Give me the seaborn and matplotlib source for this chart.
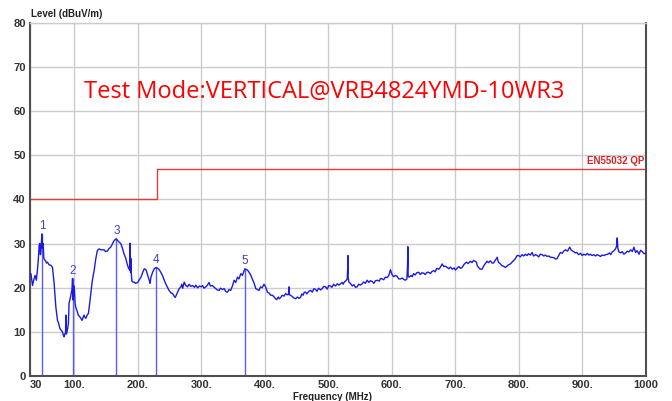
import matplotlib
matplotlib.use("Agg")
import matplotlib.pyplot as plt
import seaborn as sns
import pandas as pd

# measured trace (MHz, dBuV/m)
freq_mhz = [
    31.4, 33, 34, 36, 38, 40, 42, 43, 44.5, 45.5,
    46.3, 47, 48, 48.7, 49.5, 50.7, 51.8, 54, 56, 57.5,
    60, 62.8, 64, 65.4, 66.5, 68, 70.7, 72, 73.3, 75,
    77, 79, 81, 82.5, 83.8, 85, 86, 86.4, 86.8, 87.4,
    89, 90.5, 91.5, 92.7, 94, 94.8, 96, 97, 97.5, 98,
    98.8, 100, 101, 102, 104, 106, 108, 110, 112, 115,
    116.5, 118, 120, 122, 124, 125.7, 128, 131, 133.5, 136,
    138.8, 142, 146.6, 149, 151.8, 154, 157, 160, 162, 164,
    166, 167.5, 170, 173, 175.5, 178, 180.5, 183, 185, 187,
    187.5, 188, 188.5, 189, 189.6, 190.5, 191.7, 194, 196, 199.6,
    202, 204.8, 207.5, 210, 212.6, 215, 217.8, 219, 220.5, 223,
    225.7, 228.5, 230, 233, 236, 238.5, 241.4, 245, 249, 252,
    254.6, 256.5, 258.7, 260.5, 262.4, 265, 267.6, 269, 270.5, 272.8,
    275, 278, 280.5, 283, 286, 289, 291, 293.9, 297, 299.5,
    301.7, 304, 307, 309.5, 312, 314, 317.5, 320, 322.6, 325,
    327.8, 330, 333, 335.7, 338, 341, 343.5, 346, 349, 351.4,
    354, 356.7, 359, 362, 364.5, 367, 368.5, 372.5, 375, 377.5,
    380, 383, 385.5, 388, 390.7, 393, 395.5, 398.5, 401, 403.9,
    406.5, 409, 411.7, 414, 416, 418.5, 421, 422.5, 424.8, 427,
    430, 432.7, 435, 437.5, 437.8, 438.2, 440.5, 443, 445.5, 448.4,
    451, 453.5, 456, 458, 460, 462, 464, 466, 469, 472,
    474.5, 477, 479.7, 482, 484.5, 487.6, 490, 492.5, 495.5, 498,
    500.5, 503, 505.5, 508, 511, 514, 516.5, 519, 521.5, 523,
    525, 527.5, 529.5, 530.3, 530.6, 531, 532, 534.5, 537.5, 540,
    542.5, 545, 547.5, 550, 553, 555.5, 558, 561, 563.5, 566,
    569, 571.5, 574, 577, 580, 582, 584.6, 587, 589.5, 592.5,
    595, 597.6, 600, 602.8, 605.5, 608, 610.7, 613.4, 616, 618.5,
    621, 623.5, 624.5, 625, 625.5, 627, 630, 632, 634, 636.5,
    639, 642, 644.5, 647, 650, 652.5, 655, 658, 660.5, 663,
    665.7, 668, 670.5, 673.6, 676, 679, 681.5, 684, 687, 689.5,
    692, 695, 698, 700, 702.5, 705, 708, 710.5, 713.5, 717,
    720, 723.4, 726, 728.6, 731, 733, 734.5, 736.5, 739, 741.8,
    744, 746.5, 749.7, 752, 755, 757.5, 760, 762.5, 765.6, 767.5,
    770.8, 773, 775.5, 778.6, 781, 783.5, 786.5, 789, 791.8, 794.3,
    797, 799.5, 802, 805, 807.5, 810, 812.8, 815, 818, 820.7,
    823, 826, 828.6, 831, 833.5, 836.5, 839, 841.5, 844.3, 847,
    849.5, 852, 855, 857.5, 860, 862.5, 865.2, 868, 870.5, 873,
    876.5, 879.8, 882.5, 886, 888.5, 891, 894, 897, 899.5, 902,
    905, 907.5, 910, 912.5, 915, 917.8, 920.5, 923, 925.7, 928.5,
    931, 933.6, 936.5, 939.9, 942.5, 944.5, 946.8, 949.5, 952, 953.8,
    954.7, 955.6, 957.4, 960, 962.5, 965.2, 968, 970.5, 973, 976,
    978.5, 981, 983.5, 986, 989, 991.5, 994, 997, 1000,
]
level_dbuv = [
    23.2, 21.5, 20.5, 21.8, 22.8, 21.7, 24.5, 26.2, 29.8, 30.0,
    27.5, 27.8, 30.5, 32.2, 29.0, 30.0, 26.6, 26.2, 25.6, 25.8,
    25.2, 25.1, 24.9, 24.6, 23.0, 21.0, 15.6, 14.0, 12.6, 12.0,
    10.8, 10.4, 10.0, 9.3, 8.9, 9.6, 9.8, 13.8, 10.0, 9.5,
    10.5, 12.0, 16.5, 17.2, 18.0, 18.7, 19.5, 22.1, 19.0, 17.2,
    20.5, 19.4, 16.5, 15.6, 14.8, 13.8, 13.5, 13.1, 12.6, 13.8,
    13.3, 13.1, 13.8, 14.2, 16.5, 18.7, 21.5, 23.9, 26.5, 28.4,
    28.8, 28.6, 28.6, 28.2, 28.3, 28.8, 29.2, 30.0, 30.6, 30.9,
    31.1, 30.8, 30.4, 30.0, 29.0, 27.7, 26.8, 25.4, 24.5, 24.0,
    30.1, 24.0, 23.5, 26.6, 23.0, 21.5, 21.3, 21.3, 21.0, 21.2,
    21.8, 22.4, 23.5, 24.3, 24.1, 23.0, 21.7, 21.0, 22.4, 23.5,
    24.3, 24.6, 24.5, 24.2, 23.5, 22.8, 21.7, 20.5, 19.4, 18.8,
    18.7, 18.2, 17.8, 18.4, 19.0, 19.8, 20.2, 20.8, 19.9, 21.3,
    20.6, 20.2, 20.8, 20.3, 20.5, 20.1, 20.6, 20.0, 20.4, 20.2,
    20.5, 19.9, 20.2, 20.6, 21.2, 20.4, 20.5, 20.1, 19.8, 19.5,
    19.4, 19.9, 19.6, 19.8, 19.2, 19.0, 19.6, 19.4, 20.5, 21.7,
    21.2, 22.4, 22.0, 23.2, 22.8, 23.8, 24.3, 24.0, 23.5, 22.9,
    22.0, 21.0, 19.8, 19.6, 19.4, 20.2, 20.0, 20.8, 20.2, 19.0,
    18.8, 18.3, 18.3, 18.0, 17.6, 17.3, 17.9, 17.5, 17.8, 18.3,
    18.1, 18.7, 18.4, 18.6, 20.2, 18.4, 18.3, 18.0, 17.7, 17.5,
    17.9, 17.6, 17.8, 18.6, 18.3, 19.0, 19.0, 18.6, 19.2, 19.4,
    19.0, 19.8, 19.6, 19.2, 19.9, 19.5, 19.8, 20.3, 20.2, 19.7,
    20.5, 20.4, 20.1, 20.8, 20.4, 20.9, 20.6, 20.9, 21.2, 20.8,
    21.3, 21.6, 22.0, 24.5, 27.3, 22.5, 21.3, 21.0, 20.4, 20.7,
    20.1, 20.2, 20.8, 20.6, 20.9, 21.3, 21.0, 21.7, 21.2, 21.6,
    21.4, 21.0, 21.6, 21.7, 21.5, 22.1, 22.0, 21.8, 22.4, 22.3,
    22.8, 24.1, 23.0, 22.5, 22.8, 22.6, 22.0, 22.0, 22.2, 21.9,
    21.7, 22.0, 25.0, 29.3, 22.6, 22.4, 22.8, 22.5, 23.2, 22.9,
    23.4, 23.5, 23.0, 23.4, 23.3, 23.0, 23.5, 23.5, 23.2, 23.7,
    23.9, 23.6, 24.4, 24.2, 24.6, 25.4, 24.8, 24.9, 24.6, 24.3,
    24.7, 24.2, 24.5, 24.0, 24.4, 24.8, 24.4, 24.6, 25.3, 25.8,
    25.5, 26.0, 25.7, 26.2, 26.0, 25.8, 24.9, 24.6, 24.2, 24.2,
    24.8, 25.4, 26.0, 25.7, 26.1, 25.6, 25.6, 26.2, 26.9, 25.8,
    25.4, 25.0, 24.9, 24.6, 24.9, 25.2, 25.4, 25.8, 26.2, 26.6,
    27.3, 27.3, 27.0, 27.5, 27.2, 27.6, 27.3, 27.7, 27.4, 28.0,
    27.2, 27.5, 27.3, 27.0, 27.6, 27.5, 27.2, 27.4, 27.1, 27.2,
    26.9, 26.9, 26.8, 26.5, 26.6, 27.3, 28.0, 27.8, 28.3, 28.6,
    28.3, 29.2, 28.5, 28.2, 27.9, 28.0, 27.5, 27.8, 27.3, 27.6,
    27.4, 27.8, 27.4, 27.6, 27.3, 27.5, 27.2, 27.5, 27.3, 27.1,
    27.4, 27.3, 27.5, 27.6, 27.9, 27.5, 28.1, 28.4, 28.8, 29.5,
    31.3, 29.0, 28.1, 27.9, 28.2, 27.6, 27.9, 28.3, 28.1, 28.6,
    28.2, 29.2, 28.0, 28.4, 27.6, 28.5, 28.2, 27.7, 27.9,
]

# EN55032 QP limit
limit_freq = [30, 230, 230, 1000]
limit_level = [40, 40, 47, 47]

# marked peaks
marker_id = ["1", "2", "3", "4", "5"]
marker_freq = [48.7, 97, 166, 228.5, 368.5]
marker_level = [32.2, 22.1, 31.1, 24.6, 24.3]

xtick_vals = [30, 100, 200, 300, 400, 500, 600, 700, 800, 900, 1000]
xtick_text = ["30", "100.", "200.", "300.", "400.", "500.", "600.", "700.", "800.", "900.", "1000"]

sns.set_style("white")
plt.rcParams["font.family"] = ["Liberation Sans", "DejaVu Sans"]

fig = plt.figure(figsize=(6.72, 4.01), dpi=100)
ax = fig.add_axes([30 / 672, 1 - 376 / 401, 616 / 672, 353 / 401])

trace = pd.DataFrame({"freq": freq_mhz, "level": level_dbuv})
sns.lineplot(data=trace, x="freq", y="level", ax=ax, color="#1c1ce0", lw=1.0,
             estimator=None, zorder=3)
limit = pd.DataFrame({"freq": limit_freq, "level": limit_level})
sns.lineplot(data=limit, x="freq", y="level", ax=ax, color="#e83838", lw=1.0,
             sort=False, estimator=None, zorder=2)

ax.vlines(marker_freq, 0, marker_level, color="#5a5aff", lw=1.0, zorder=2)
for mid, mf, ml in zip(marker_id, marker_freq, marker_level):
    ax.text(mf, ml + 1.7, mid, color="#4040d0", fontsize=8.5, ha="center", va="center")

ax.text(998, 47.6, "EN55032 QP", color="#e02020", fontsize=7, fontweight="bold",
        ha="right", va="bottom")
ax.text(115, 64.4, "Test Mode:VERTICAL@VRB4824YMD-10WR3", color="#ff0000",
        fontsize=17, family=["Open Sans", "DejaVu Sans"], ha="left", va="center")

ax.set_xlim(30, 1000)
ax.set_ylim(0, 80)
ax.set_xticks(xtick_vals)
ax.set_xticklabels(xtick_text)
ax.set_yticks(range(0, 81, 10))
ax.grid(True, color="#cccccc", lw=1.0)
ax.set_axisbelow(True)
ax.tick_params(length=0, labelsize=8, labelcolor="#333333", pad=3)
for lab in ax.get_xticklabels() + ax.get_yticklabels():
    lab.set_fontweight("bold")
ax.get_xticklabels()[0].set_horizontalalignment("left")
ax.set_xlabel("")
ax.set_ylabel("")

for side in ["left", "bottom", "right"]:
    ax.spines[side].set_color("#505050")
    ax.spines[side].set_linewidth(1.5)
ax.spines["top"].set_color("#cccccc")
ax.spines["top"].set_linewidth(1.0)

fig.text(31 / 672, 1 - 14 / 401, "Level (dBuV/m)", fontsize=7, fontweight="bold",
         color="#222222", ha="left", va="center")
fig.text(293 / 672, 1 - 392 / 401, "Frequency (MHz)", fontsize=7, fontweight="bold",
         color="#222222", ha="left", va="top")

fig.savefig("out.png", dpi=100)
